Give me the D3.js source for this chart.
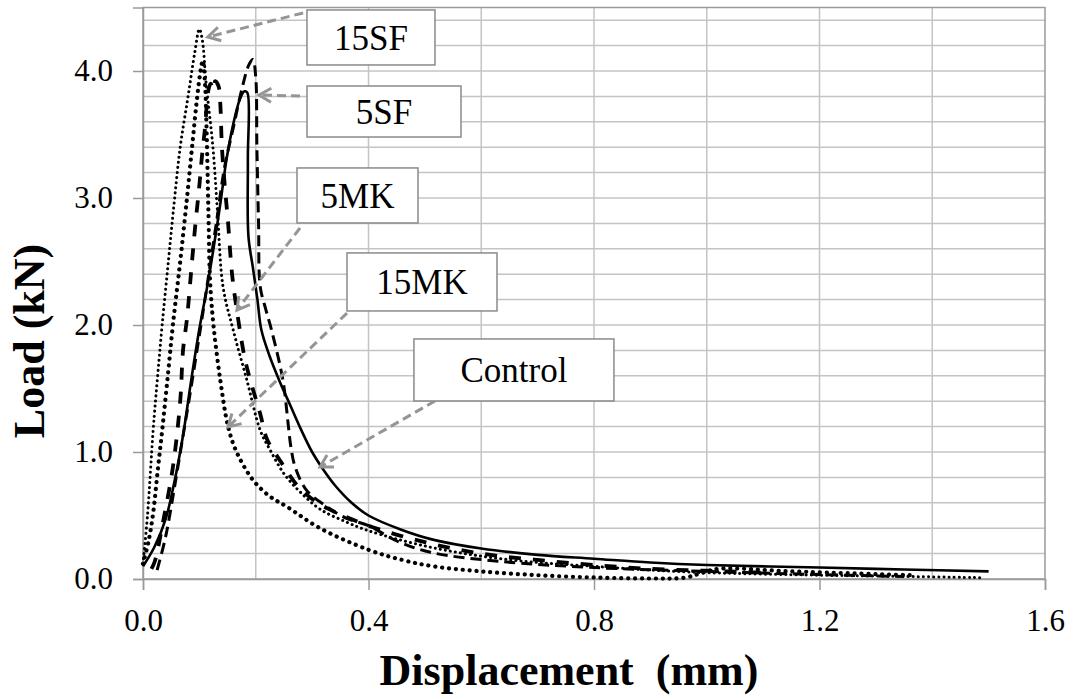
<!DOCTYPE html>
<html>
<head>
<meta charset="utf-8">
<script src="https://cdn.jsdelivr.net/npm/d3@7"></script>
</head>
<body style="margin:0">
<script>
const WIDTH = 1077;
const HEIGHT = 699;
const SERIF = "Liberation Serif";

// ############
// data  (displacement mm, load kN)
// ############
const control = [
  [0, 0.1], [0.02, 0.25], [0.04, 0.47], [0.055, 0.75], [0.071, 1.13], [0.085, 1.55],
  [0.1, 1.97], [0.113, 2.28], [0.125, 2.6], [0.137, 2.95], [0.148, 3.3], [0.16, 3.58],
  [0.172, 3.78], [0.18, 3.84], [0.185, 3.83], [0.186, 3.3], [0.187, 2.7], [0.195, 2.45],
  [0.203, 2.2], [0.21, 1.96], [0.225, 1.75], [0.243, 1.55], [0.262, 1.36], [0.28, 1.18],
  [0.3, 1.0], [0.32, 0.86], [0.34, 0.74], [0.37, 0.6], [0.4, 0.5], [0.457, 0.39],
  [0.514, 0.31], [0.6, 0.24], [0.7, 0.19], [0.8, 0.16], [0.9, 0.13], [1.0, 0.11],
  [1.2, 0.09], [1.35, 0.075], [1.5, 0.06]
];
const sf15 = [
  [0, 0.12], [0.008, 0.5], [0.018, 1.17], [0.026, 1.6], [0.034, 2.0], [0.045, 2.5],
  [0.055, 2.95], [0.066, 3.4], [0.08, 3.8], [0.092, 4.15], [0.1, 4.33], [0.105, 4.25],
  [0.112, 3.9], [0.124, 3.4], [0.132, 2.9], [0.142, 2.3], [0.16, 1.96], [0.184, 1.57],
  [0.208, 1.17], [0.225, 1.02], [0.25, 0.83], [0.28, 0.68], [0.314, 0.55], [0.36, 0.45],
  [0.4, 0.38], [0.5, 0.26], [0.6, 0.18], [0.7, 0.13], [0.8, 0.1], [0.9, 0.07],
  [1.0, 0.05], [1.2, 0.03], [1.35, 0.02], [1.49, 0.01]
];
const mk15 = [
  [0, 0.12], [0.01, 0.3], [0.018, 0.52], [0.026, 0.85], [0.034, 1.17], [0.044, 1.6],
  [0.053, 2.0], [0.066, 2.5], [0.078, 3.0], [0.087, 3.4], [0.095, 3.75], [0.102, 4.0],
  [0.106, 4.08], [0.11, 3.9], [0.113, 3.5], [0.116, 2.9], [0.119, 2.35], [0.125, 2.0],
  [0.137, 1.57], [0.151, 1.2], [0.166, 1.0], [0.195, 0.78], [0.225, 0.65], [0.255, 0.57],
  [0.314, 0.4], [0.4, 0.23], [0.46, 0.15], [0.515, 0.1], [0.6, 0.06], [0.7, 0.03],
  [0.8, 0.012], [0.9, 0.004], [0.96, 0.01], [0.99, 0.045], [1.02, 0.08], [1.15, 0.06],
  [1.36, 0.03]
];
const mk5 = [
  [0.015, 0.08], [0.021, 0.14], [0.036, 0.46], [0.053, 0.88], [0.066, 1.4], [0.071, 1.8],
  [0.078, 2.05], [0.085, 2.4], [0.092, 2.75], [0.1, 3.1], [0.105, 3.35], [0.11, 3.55],
  [0.116, 3.85], [0.12, 3.9], [0.125, 3.85], [0.128, 3.92], [0.134, 3.88], [0.137, 3.75],
  [0.14, 3.4], [0.145, 3.1], [0.151, 2.8], [0.158, 2.4], [0.167, 2.1], [0.18, 1.75],
  [0.19, 1.57], [0.208, 1.3], [0.22, 1.1], [0.245, 0.92], [0.273, 0.74], [0.3, 0.63],
  [0.33, 0.55], [0.4, 0.42], [0.5, 0.29], [0.6, 0.2], [0.7, 0.15], [0.8, 0.11],
  [0.9, 0.08], [1.0, 0.065], [1.1, 0.05]
];
const sf5 = [
  [0.025, 0.07], [0.04, 0.33], [0.055, 0.7], [0.07, 1.1], [0.085, 1.5], [0.1, 1.92],
  [0.115, 2.35], [0.13, 2.8], [0.145, 3.25], [0.16, 3.55], [0.175, 3.85], [0.188, 4.05],
  [0.195, 4.09], [0.2, 3.95], [0.202, 3.4], [0.205, 2.8], [0.208, 2.3], [0.218, 2.12],
  [0.228, 1.96], [0.248, 1.57], [0.258, 1.2], [0.262, 1.05], [0.27, 0.88], [0.29, 0.7],
  [0.326, 0.57], [0.36, 0.48], [0.4, 0.42], [0.45, 0.3], [0.51, 0.21], [0.63, 0.14],
  [0.8, 0.09], [1.0, 0.06], [1.2, 0.035], [1.35, 0.02]
];

const xTicks = [0, 0.4, 0.8, 1.2, 1.6];
const yTicks = [0, 1, 2, 3, 4];

// callouts: label, arrow tail, arrow tip, box centre (all in data units)
const calloutLabels = ["15SF", "5SF", "5MK", "15MK", "Control"];
const calloutTails = [[0.284, 4.457], [0.2785, 3.803], [0.2785, 2.764], [0.3619, 2.094], [0.518, 1.402]];
const calloutTips = [[0.115, 4.268], [0.2058, 3.811], [0.1667, 2.118], [0.1508, 1.197], [0.314, 0.882]];
const calloutCentres = [[0.4044, 4.264], [0.4275, 3.681], [0.3805, 3.02], [0.4949, 2.339], [0.658, 1.646]];

// ############
// layout / styles
// ############
const PLOT = { left: 143, right: 1045, top: 7.5, bottom: 579 };
const BOX_SIZE = [[128, 55], [154, 51], [121, 55], [150, 58], [200, 62]];
const GRID_COLOR = "#c4c4c4";
const AXIS_COLOR = "#9a9a9a";
const ARROW_COLOR = "#959595";

const seriesStyle = [
  { data: sf15, width: 3.0, dash: "0.1,5", cap: "round" },
  { data: mk15, width: 4.2, dash: "0.1,6.8", cap: "round" },
  { data: mk5, width: 3.8, dash: "12,12", cap: "butt" },
  { data: sf5, width: 3.0, dash: "11,6", cap: "butt" },
  { data: control, width: 2.6, dash: null, cap: "butt" }
];

const x = d3.scaleLinear().domain([0, 1.6]).range([PLOT.left, PLOT.right]);
const y = d3.scaleLinear().domain([0, 4.5]).range([PLOT.bottom, PLOT.top]);

const svg = d3.select("body").append("svg")
  .attr("width", WIDTH).attr("height", HEIGHT)
  .attr("font-family", SERIF)
  .style("font-family", "'" + SERIF + "'");

// gridlines every 0.2
const grid = svg.append("g");
grid.selectAll("line.v")
  .data(d3.range(1, 8).map((i) => i * 0.2))
  .join("line")
  .attr("x1", (d) => x(d)).attr("x2", (d) => x(d))
  .attr("y1", PLOT.top).attr("y2", PLOT.bottom)
  .attr("stroke", GRID_COLOR).attr("stroke-width", 1.5);
grid.selectAll("line.h")
  .data(d3.range(1, 23).map((i) => i * 0.2))
  .join("line")
  .attr("x1", PLOT.left).attr("x2", PLOT.right)
  .attr("y1", (d) => y(d)).attr("y2", (d) => y(d))
  .attr("stroke", GRID_COLOR).attr("stroke-width", 1.5);

// plot border
svg.append("rect")
  .attr("x", PLOT.left).attr("y", PLOT.top)
  .attr("width", PLOT.right - PLOT.left).attr("height", PLOT.bottom - PLOT.top)
  .attr("fill", "none").attr("stroke", AXIS_COLOR).attr("stroke-width", 1.5);

// axes
const xAxis = svg.append("g")
  .attr("transform", "translate(0," + PLOT.bottom + ")")
  .call(d3.axisBottom(x).tickValues(xTicks).tickFormat(d3.format(".1f")).tickSize(11).tickPadding(18));
const yAxis = svg.append("g")
  .attr("transform", "translate(" + PLOT.left + ",0)")
  .call(d3.axisLeft(y).tickValues(yTicks).tickFormat(d3.format(".1f")).tickSize(10).tickPadding(20));
[xAxis, yAxis].forEach((a) => {
  a.attr("font-family", SERIF).attr("font-size", 31);
  a.select(".domain").attr("stroke", AXIS_COLOR).attr("stroke-width", 1.5);
  a.selectAll(".tick line").attr("stroke", AXIS_COLOR).attr("stroke-width", 1.5);
  a.selectAll(".tick text")
    .attr("fill", "#000")
    .attr("font-family", SERIF)
    .style("font-family", "'" + SERIF + "'");
});
xAxis.selectAll(".tick text").attr("dy", "0.75em");

// curves
const line = d3.line()
  .x((d) => x(d[0]))
  .y((d) => y(d[1]))
  .curve(d3.curveCatmullRom.alpha(0.5));

svg.append("g").selectAll("path")
  .data(seriesStyle)
  .join("path")
  .attr("d", (d) => line(d.data))
  .attr("fill", "none")
  .attr("stroke", "#000")
  .attr("stroke-width", (d) => d.width)
  .attr("stroke-dasharray", (d) => d.dash)
  .attr("stroke-linecap", (d) => d.cap)
  .attr("stroke-linejoin", "round");

// callout arrows
const arrows = svg.append("g");
calloutLabels.forEach((lab, i) => {
  const x0 = x(calloutTails[i][0]), y0 = y(calloutTails[i][1]);
  const x1 = x(calloutTips[i][0]), y1 = y(calloutTips[i][1]);
  const ang = Math.atan2(y1 - y0, x1 - x0);
  const head = 14, spread = Math.PI / 6;
  arrows.append("line")
    .attr("x1", x0).attr("y1", y0)
    .attr("x2", x1 - Math.cos(ang) * 3).attr("y2", y1 - Math.sin(ang) * 3)
    .attr("stroke", ARROW_COLOR).attr("stroke-width", 3)
    .attr("stroke-dasharray", "9,5");
  arrows.append("path")
    .attr("d", "M" + (x1 - head * Math.cos(ang - spread)) + "," + (y1 - head * Math.sin(ang - spread)) +
      "L" + x1 + "," + y1 +
      "L" + (x1 - head * Math.cos(ang + spread)) + "," + (y1 - head * Math.sin(ang + spread)))
    .attr("fill", "none").attr("stroke", ARROW_COLOR).attr("stroke-width", 3);
});

// callout boxes
const boxes = svg.append("g").selectAll("g")
  .data(calloutLabels)
  .join("g")
  .attr("transform", (d, i) => "translate(" + x(calloutCentres[i][0]) + "," + y(calloutCentres[i][1]) + ")");
boxes.append("rect")
  .attr("x", (d, i) => -BOX_SIZE[i][0] / 2)
  .attr("y", (d, i) => -BOX_SIZE[i][1] / 2)
  .attr("width", (d, i) => BOX_SIZE[i][0])
  .attr("height", (d, i) => BOX_SIZE[i][1])
  .attr("fill", "#fff").attr("stroke", "#8a8a8a").attr("stroke-width", 1.5);
boxes.append("text")
  .attr("text-anchor", "middle")
  .attr("dy", "0.35em")
  .attr("font-family", SERIF)
  .attr("font-size", 35)
  .text((d) => d);

// axis titles
svg.append("text")
  .attr("x", 569).attr("y", 685)
  .attr("text-anchor", "middle")
  .attr("font-family", SERIF)
  .attr("font-size", 44).attr("font-weight", "bold")
  .attr("xml:space", "preserve")
  .style("white-space", "pre")
  .text("Displacement  (mm)");
svg.append("text")
  .attr("transform", "translate(44,341) rotate(-90)")
  .attr("text-anchor", "middle")
  .attr("font-family", SERIF)
  .attr("font-size", 44).attr("font-weight", "bold")
  .text("Load (kN)");
</script>
</body>
</html>
